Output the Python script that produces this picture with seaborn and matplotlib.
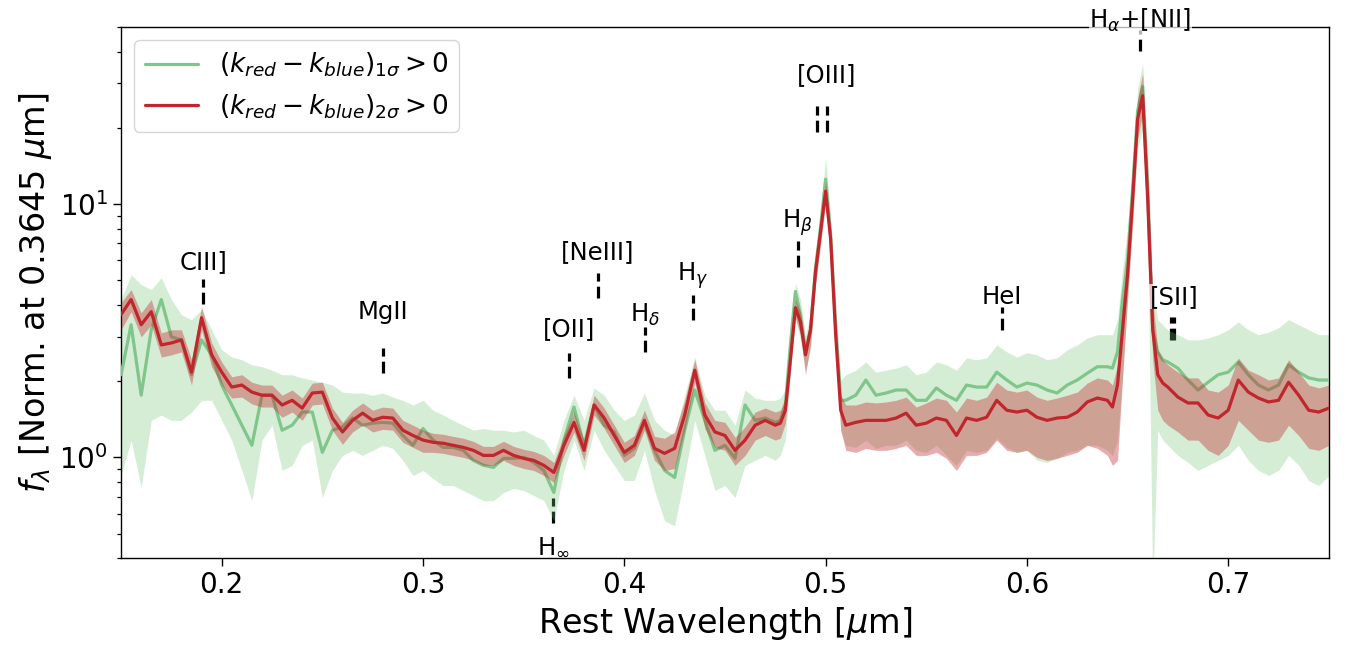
import numpy as np
import pandas as pd
import matplotlib
matplotlib.use("Agg")
import matplotlib.pyplot as plt
import seaborn as sns

# ---------------- data (rest wavelength in micron, flux normalised at 0.3645 um) ----------------
wavelength = [
    0.150, 0.155, 0.160, 0.165, 0.170, 0.175, 0.180, 0.185, 0.190, 0.195,
    0.200, 0.205, 0.210, 0.215, 0.220, 0.225, 0.230, 0.235, 0.240, 0.245,
    0.250, 0.255, 0.260, 0.265, 0.270, 0.275, 0.280, 0.285, 0.290, 0.295,
    0.300, 0.305, 0.310, 0.315, 0.320, 0.325, 0.330, 0.335, 0.340, 0.345,
    0.350, 0.355, 0.360, 0.365, 0.370, 0.375, 0.380, 0.385, 0.390, 0.395,
    0.400, 0.405, 0.410, 0.415, 0.420, 0.425, 0.430, 0.435, 0.440, 0.445,
    0.450, 0.455, 0.460, 0.465, 0.470, 0.475,
    0.4775, 0.480, 0.4825, 0.485, 0.4875, 0.490, 0.4925, 0.495, 0.4975, 0.500,
    0.5025, 0.505, 0.5075, 0.510,
    0.515, 0.520, 0.525, 0.530, 0.535, 0.540, 0.545, 0.550, 0.555, 0.560,
    0.565, 0.570, 0.575, 0.580, 0.585, 0.590, 0.595, 0.600, 0.605, 0.610,
    0.615, 0.620, 0.625, 0.630, 0.635, 0.640,
    0.6425, 0.645, 0.6475, 0.650, 0.6525, 0.655, 0.6575, 0.660, 0.6625, 0.665,
    0.6675, 0.670,
    0.675, 0.680, 0.685, 0.690, 0.695, 0.700, 0.705, 0.710, 0.715, 0.720,
    0.725, 0.730, 0.735, 0.740, 0.745, 0.750,
]

# (k_red - k_blue)_2sigma > 0 : median and band
red_med = [
    3.66, 4.20, 3.34, 3.76, 2.78, 2.83, 2.91, 2.17, 3.56, 2.54,
    2.17, 1.895, 1.93, 1.81, 1.76, 1.76, 1.61, 1.68, 1.565, 1.795,
    1.81, 1.43, 1.26, 1.40, 1.495, 1.40, 1.44, 1.43, 1.28, 1.22,
    1.17, 1.147, 1.137, 1.116, 1.095, 1.066, 1.018, 1.018, 1.066, 1.018,
    0.991, 0.973, 0.930, 0.872, 1.116, 1.375, 1.066, 1.61, 1.43, 1.22,
    1.047, 1.116, 1.40, 1.085, 1.037, 1.085, 1.47, 2.21, 1.47, 1.26,
    1.22, 1.066, 1.17, 1.34, 1.40, 1.34,
    1.365, 1.535, 2.43, 3.90, 3.43, 2.54, 3.19, 5.42, 7.81, 11.25,
    7.26, 3.05, 1.535, 1.34,
    1.375, 1.40, 1.40, 1.40, 1.43, 1.495, 1.34, 1.365, 1.43, 1.40,
    1.22, 1.43, 1.40, 1.44, 1.68, 1.535, 1.51, 1.535, 1.44, 1.40,
    1.43, 1.44, 1.51, 1.655, 1.715, 1.68,
    1.58, 1.93, 3.19, 5.27, 10.46, 21.7, 26.8, 10.46, 3.19, 2.12,
    1.965, 1.895,
    1.73, 1.64, 1.64, 1.47, 1.43, 1.535, 2.02, 1.81, 1.715, 1.655,
    1.68, 1.98, 1.76, 1.535, 1.51, 1.565,
]
red_hi = [
    4.08, 4.60, 3.72, 4.20, 3.10, 3.19, 3.19, 2.43, 3.94, 2.83,
    2.38, 2.08, 2.12, 1.98, 1.93, 1.93, 1.76, 1.845, 1.715, 1.965,
    1.98, 1.565, 1.375, 1.535, 1.64, 1.535, 1.58, 1.565, 1.40, 1.34,
    1.28, 1.245, 1.234, 1.21, 1.19, 1.157, 1.105, 1.105, 1.157, 1.105,
    1.076, 1.056, 1.018, 0.955, 1.22, 1.51, 1.17, 1.76, 1.565, 1.34,
    1.147, 1.22, 1.535, 1.21, 1.19, 1.26, 1.68, 2.43, 1.64, 1.40,
    1.375, 1.20, 1.32, 1.51, 1.565, 1.51,
    1.535, 1.715, 2.66, 4.20, 3.76, 2.78, 3.56, 5.94, 8.55, 12.3,
    8.10, 3.50, 1.76, 1.61,
    1.61, 1.655, 1.64, 1.655, 1.68, 1.73, 1.58, 1.64, 1.715, 1.68,
    1.51, 1.715, 1.68, 1.73, 1.98, 1.845, 1.81, 1.845, 1.73, 1.68,
    1.715, 1.76, 1.81, 1.965, 2.06, 2.02,
    1.93, 2.32, 4.01, 6.33, 12.55, 26.1, 32.8, 13.75, 4.20, 2.66,
    2.43, 2.32,
    2.17, 2.06, 2.06, 1.845, 1.81, 1.93, 2.47, 2.21, 2.12, 2.02,
    2.06, 2.43, 2.17, 1.93, 1.88, 1.93,
]
red_lo = [
    3.19, 3.76, 2.99, 3.34, 2.49, 2.54, 2.61, 1.93, 3.19, 2.28,
    1.93, 1.715, 1.73, 1.625, 1.58, 1.58, 1.44, 1.51, 1.40, 1.61,
    1.625, 1.28, 1.126, 1.26, 1.34, 1.26, 1.29, 1.28, 1.147, 1.095,
    1.047, 1.047, 1.037, 1.018, 1.00, 0.973, 0.930, 0.930, 0.973, 0.930,
    0.904, 0.888, 0.848, 0.796, 1.018, 1.26, 0.973, 1.47, 1.30, 1.116,
    0.955, 1.018, 1.28, 0.973, 0.888, 0.904, 1.28, 1.98, 1.30, 1.095,
    1.066, 0.930, 1.018, 1.17, 1.22, 1.17,
    1.19, 1.365, 2.17, 3.56, 3.05, 2.12, 2.78, 4.81, 6.93, 9.99,
    6.33, 2.66, 1.28, 1.066,
    1.047, 1.085, 1.066, 1.066, 1.085, 1.116, 1.018, 1.018, 1.047, 0.991,
    0.888, 1.018, 1.018, 1.047, 1.17, 1.066, 1.047, 1.066, 1.00, 0.973,
    0.991, 1.018, 1.047, 1.116, 1.085, 1.018,
    0.930, 0.973, 2.02, 4.20, 8.32, 18.1, 22.8, 7.60, 2.43, 1.535,
    1.40, 1.34,
    1.26, 1.17, 1.17, 1.066, 1.018, 1.116, 1.40, 1.28, 1.17, 1.147,
    1.17, 1.34, 1.22, 1.085, 1.066, 1.116,
]

# (k_red - k_blue)_1sigma > 0 : median and band
green_med = [
    2.12, 3.34, 1.76, 3.19, 4.20, 2.99, 2.91, 2.12, 2.91, 2.54,
    1.93, 1.61, 1.34, 1.116, 1.76, 1.76, 1.28, 1.34, 1.51, 1.51,
    1.047, 1.28, 1.32, 1.43, 1.34, 1.365, 1.375, 1.365, 1.22, 1.116,
    1.30, 1.17, 1.095, 1.095, 1.066, 0.973, 0.930, 0.913, 0.991, 0.991,
    1.00, 0.955, 0.888, 0.727, 1.17, 1.58, 1.116, 1.61, 1.34, 1.26,
    1.018, 1.085, 1.375, 1.066, 0.888, 0.833, 1.28, 1.845, 1.40, 1.066,
    1.116, 0.991, 1.61, 1.40, 1.43, 1.375,
    1.40, 1.61, 2.78, 4.52, 3.66, 2.66, 3.19, 5.62, 8.10, 12.55,
    7.60, 3.34, 1.68, 1.68,
    1.76, 2.02, 1.76, 1.795, 1.845, 1.845, 1.68, 1.68, 1.88, 1.76,
    1.68, 1.93, 1.895, 1.895, 2.17, 2.02, 1.895, 1.965, 1.93, 1.845,
    1.795, 1.93, 2.02, 2.15, 2.28, 2.28,
    2.25, 2.61, 4.20, 6.05, 11.46, 23.3, 29.1, 11.46, 3.19, 2.61,
    2.43, 2.38,
    2.25, 2.02, 1.845, 1.98, 2.12, 2.17, 2.38, 2.12, 1.93, 1.845,
    1.93, 2.32, 2.17, 2.06, 2.02, 2.02,
]
green_hi = [
    4.20, 5.27, 4.81, 4.60, 5.12, 4.20, 3.66, 3.50, 3.83, 3.19,
    2.66, 2.49, 2.43, 2.32, 2.28, 2.21, 2.12, 2.12, 2.06, 2.02,
    1.98, 1.93, 1.81, 1.795, 1.795, 1.76, 1.795, 1.73, 1.68, 1.61,
    1.68, 1.535, 1.47, 1.40, 1.34, 1.28, 1.30, 1.28, 1.28, 1.26,
    1.28, 1.22, 1.17, 1.018, 1.40, 1.76, 1.40, 1.88, 1.76, 1.535,
    1.40, 1.47, 1.795, 1.40, 1.28, 1.22, 1.76, 2.49, 1.76, 1.535,
    1.535, 1.34, 1.845, 1.715, 1.68, 1.68,
    1.715, 1.845, 3.05, 4.90, 4.20, 3.05, 3.66, 6.33, 9.37, 15.3,
    8.88, 3.83, 2.02, 2.12,
    2.21, 2.38, 2.17, 2.21, 2.25, 2.32, 2.12, 2.17, 2.38, 2.32,
    2.21, 2.47, 2.43, 2.47, 2.78, 2.61, 2.49, 2.59, 2.54, 2.43,
    2.47, 2.66, 2.78, 2.96, 3.05, 3.05,
    3.05, 3.50, 5.52, 7.95, 14.4, 28.6, 35.9, 16.5, 4.60, 3.50,
    3.34, 3.19,
    3.05, 2.91, 2.91, 2.96, 3.05, 3.19, 3.43, 3.19, 3.05, 3.12,
    3.25, 3.50, 3.34, 3.19, 3.05, 3.05,
]
green_lo = [
    0.848, 1.17, 0.760, 1.40, 1.47, 1.40, 1.40, 1.51, 1.68, 1.68,
    1.40, 1.17, 0.888, 0.675, 1.17, 1.34, 0.888, 0.930, 1.116, 1.17,
    0.694, 0.888, 1.018, 1.066, 1.018, 1.066, 1.116, 1.085, 0.973, 0.848,
    0.888, 0.825, 0.774, 0.774, 0.740, 0.707, 0.675, 0.675, 0.727, 0.753,
    0.740, 0.707, 0.675, 0.562, 0.888, 1.17, 0.888, 1.28, 1.066, 0.930,
    0.810, 0.810, 1.066, 0.740, 0.562, 0.537, 0.848, 1.40, 1.018, 0.740,
    0.774, 0.694, 0.930, 0.973, 1.018, 0.973,
    1.018, 1.17, 2.12, 3.50, 2.91, 2.21, 2.66, 4.81, 6.93, 10.46,
    6.33, 2.78, 1.28, 1.116,
    1.095, 1.17, 1.085, 1.116, 1.116, 1.17, 1.066, 1.047, 1.116, 1.018,
    0.930, 1.066, 1.047, 1.066, 1.19, 1.095, 1.047, 1.066, 0.973, 0.955,
    0.991, 1.047, 1.066, 1.116, 1.116, 1.066,
    1.018, 1.17, 2.12, 4.20, 8.32, 16.5, 19.8, 8.0, 0.30, 1.28,
    1.17, 1.116,
    1.018, 0.955, 0.888, 0.930, 0.973, 1.018, 1.116, 0.973, 0.888, 0.848,
    0.888, 1.018, 0.930, 0.810, 0.774, 0.848,
]

# emission / absorption line markers
line_names = ["CIII]", "MgII", "[OII]", "[NeIII]", r"H$_\delta$", r"H$_\gamma$",
              r"H$_\beta$", "[OIII]", "HeI", r"H$_\alpha$+[NII]", "[SII]", r"H$_\infty$"]
line_waves = [[0.1909], [0.2799], [0.3727], [0.3869], [0.4102], [0.4341],
              [0.4861], [0.4959, 0.5007], [0.5876], [0.6563], [0.6716, 0.6731], [0.3646]]
label_waves = [0.1909, 0.2799, 0.3727, 0.3869, 0.4102, 0.4341,
               0.4861, 0.5007, 0.5876, 0.6563, 0.6730, 0.3646]

# layout of the markers (in data units of the log axis)
marker_lo = [4.05, 2.15, 2.06, 4.27, 2.61, 3.50, 5.67, 19.3, 3.19, 40.1, 2.91, 0.552]
marker_hi = [5.04, 2.71, 2.59, 5.37, 3.28, 4.39, 7.13, 24.3, 3.94, 48.6, 3.59, 0.694]
label_y = [5.89, 3.76, 3.22, 6.45, 3.66, 5.23, 8.48, 32.2, 4.31, 53.2, 4.31, 0.443]

# ---------------- style ----------------
sns.set_theme(style="ticks")
plt.rcParams.update({
    "font.family": ["DejaVu Sans"],
    "mathtext.fontset": "dejavusans",
    "axes.edgecolor": "black",
    "axes.linewidth": 1.0,
    "xtick.color": "black",
    "ytick.color": "black",
    "xtick.direction": "out",
    "ytick.direction": "out",
    "xtick.major.size": 6,
    "ytick.major.size": 6,
    "ytick.minor.size": 3,
    "xtick.major.width": 1.0,
    "ytick.major.width": 1.0,
    "ytick.minor.width": 0.9,
    "text.color": "black",
    "axes.labelcolor": "black",
})

GREEN = "#74c476"
GREEN_LINE = "#80c68b"
RED = "#c0262c"

fig, ax = plt.subplots(figsize=(13.45, 6.46), dpi=100)
fig.subplots_adjust(left=0.090, right=0.988, bottom=0.136, top=0.958)
ax.set_yscale("log")

df = pd.DataFrame({
    "wl": wavelength, "red": red_med, "green": green_med,
    "red_lo": red_lo, "red_hi": red_hi, "green_lo": green_lo, "green_hi": green_hi,
})

# markers (under the bands)
for waves, lo, hi in zip(line_waves, marker_lo, marker_hi):
    ax.vlines(waves, lo, hi, colors="black", linestyles="--", linewidth=2.3, zorder=1)

ax.fill_between(df["wl"], df["green_lo"], df["green_hi"],
                color=GREEN, alpha=0.3, linewidth=0, zorder=2)
sns.lineplot(data=df, x="wl", y="green", ax=ax, color=GREEN_LINE, linewidth=2.3,
             label=r"$(k_{red}-k_{blue})_{1\sigma}>0$",
             errorbar=None, sort=True, zorder=3)
ax.fill_between(df["wl"], df["red_lo"], df["red_hi"],
                color=RED, alpha=0.38, linewidth=0, zorder=3)
sns.lineplot(data=df, x="wl", y="red", ax=ax, color=RED, linewidth=2.3,
             label=r"$(k_{red}-k_{blue})_{2\sigma}>0$",
             errorbar=None, sort=True, zorder=4)

for name, lw_, ly in zip(line_names, label_waves, label_y):
    kw = {}
    if name in ("[SII]", r"H$_\alpha$+[NII]"):
        kw["bbox"] = dict(facecolor="white", edgecolor="none", alpha=0.7, pad=0.5)
    ax.text(lw_, ly, name, ha="center", va="center", fontsize=17.5,
            zorder=6, clip_on=False, **kw)

ax.set_xlim(0.15, 0.75)
ax.set_ylim(0.4, 50)
ax.set_xticks([0.2, 0.3, 0.4, 0.5, 0.6, 0.7])
ax.set_xticklabels(["0.2", "0.3", "0.4", "0.5", "0.6", "0.7"])
ax.tick_params(axis="both", which="major", labelsize=20)
ax.set_xlabel(r"Rest Wavelength [$\mu$m]", fontsize=24)
ax.set_ylabel(r"$f_\lambda$ [Norm. at 0.3645 $\mu$m]", fontsize=24)

for s in ax.spines.values():
    s.set_visible(True)
    s.set_color("black")

leg = ax.legend(loc="upper left", fontsize=19, frameon=True)
leg.get_frame().set_edgecolor("#cccccc")

fig.savefig("out.png", dpi=100)
